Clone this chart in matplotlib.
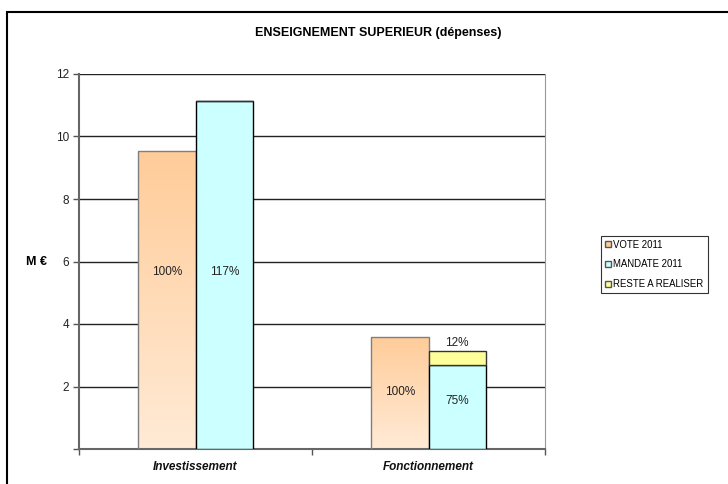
import matplotlib
matplotlib.use('Agg')
import matplotlib.pyplot as plt
import numpy as np
from matplotlib.patches import Patch, Rectangle

# --- data ---
categories = ['Investissement', 'Fonctionnement']
vote_2011 = [9.53, 3.59]
mandate_2011 = [11.13, 2.70]
reste_a_realiser = [0.0, 0.43]
vote_labels = ['100%', '100%']
mandate_labels = ['117%', '75%']
reste_labels = ['', '12%']
yticks = [2, 4, 6, 8, 10, 12]

plt.rcParams['font.family'] = ['Liberation Sans', 'DejaVu Sans']

fig = plt.figure(figsize=(7.28, 4.84), dpi=100)
ax = fig.add_axes([79 / 728, 35 / 484, 466 / 728, 375 / 484])

x = np.arange(len(categories))
w = 0.247
off = w / 2

c_vote_top = np.array([1.0, 0.80, 0.60])
c_vote_bot = np.array([1.0, 0.92, 0.84])
c_mandate = '#CCFFFF'
c_reste = '#FFFF99'

# grid first
ax.set_ylim(0, 12)
ax.set_xlim(-0.5, 1.5)
for v in yticks:
    ax.axhline(v, color='#222222', lw=1.0, zorder=0)

# VOTE bars with vertical gradient
vote_bars = ax.bar(x - off, vote_2011, w, facecolor='none', edgecolor='#7f7f7f',
                   lw=1.0, zorder=3)
grad = np.linspace(0, 1, 256)[:, None]
img = c_vote_bot[None, None, :] * (1 - grad[..., None]) + c_vote_top[None, None, :] * grad[..., None]
for b in vote_bars:
    x0, y0 = b.get_x(), b.get_y()
    im = ax.imshow(img, extent=[x0, x0 + b.get_width(), y0, y0 + b.get_height()],
                   origin='lower', aspect='auto', zorder=2)
    im.set_clip_path(b)

ax.bar(x + off, mandate_2011, w, color=c_mandate, edgecolor='black', lw=1.0, zorder=3)
ax.bar(x + off, reste_a_realiser, w, bottom=mandate_2011, color=c_reste,
       edgecolor='#333333', lw=1.0, zorder=3)

# value labels
lab_kw = dict(ha='center', va='center', fontsize=8.5, color='#222222', zorder=5)
inv_y = mandate_2011[0] / 2 + 0.1
ax.text(x[0] - off, inv_y, vote_labels[0], **lab_kw)
ax.text(x[0] + off, inv_y, mandate_labels[0], **lab_kw)
ax.text(x[1] - off, vote_2011[1] / 2 + 0.03, vote_labels[1], **lab_kw)
ax.text(x[1] + off, mandate_2011[1] / 2 + 0.2, mandate_labels[1], **lab_kw)
ax.text(x[1] + off, mandate_2011[1] + reste_a_realiser[1] + 0.26, reste_labels[1], **lab_kw)

# axes styling
ax.set_yticks([0] + yticks)
ax.set_yticklabels([''] + [str(v) for v in yticks], fontsize=8.5, color='#222222')
ax.tick_params(axis='y', length=4, width=1, color='#555555', pad=3)
ax.set_xticks([-0.5, 0.5, 1.5])
ax.set_xticklabels([])
ax.tick_params(axis='x', length=4, width=1, color='#555555')
for i, c in enumerate(categories):
    ax.text(x[i], -0.58, c, ha='center', va='center', fontsize=8.5,
            fontweight='bold', style='italic', color='#111111')
for s in ['left', 'bottom']:
    ax.spines[s].set_color('#666666')
    ax.spines[s].set_linewidth(1.5)
ax.spines['right'].set_color('#999999')
ax.spines['right'].set_linewidth(0.8)
ax.spines['top'].set_visible(False)

# title, y label
fig.text(378 / 728, 1 - 33 / 484, 'ENSEIGNEMENT SUPERIEUR (dépenses)', ha='center',
         va='center', fontsize=9, fontweight='bold')
fig.text(37 / 728, 1 - 262 / 484, 'M €', ha='center', va='center', fontsize=9,
         fontweight='bold')

# legend
handles = [Patch(facecolor='#FFCC99', edgecolor='#555555'),
           Patch(facecolor=c_mandate, edgecolor='#555555'),
           Patch(facecolor=c_reste, edgecolor='#555555')]
leg = fig.legend(handles, ['VOTE 2011', 'MANDATE 2011', 'RESTE A REALISER'],
                 loc='upper left', bbox_to_anchor=(601 / 728, 1 - 236 / 484),
                 fontsize=6.9, frameon=True, fancybox=False, handlelength=0.6,
                 handleheight=0.6, handletextpad=0.3, labelspacing=1.0,
                 borderpad=0.4, borderaxespad=0)
leg.get_frame().set_edgecolor('black')
leg.get_frame().set_linewidth(0.8)

# outer chart frame
fig.patches.append(Rectangle((7 / 728, -0.1), 1.2, 1 - 12 / 484 + 0.1,
                             transform=fig.transFigure, fill=False,
                             edgecolor='black', lw=1.5))

fig.savefig('out.png', dpi=100)
